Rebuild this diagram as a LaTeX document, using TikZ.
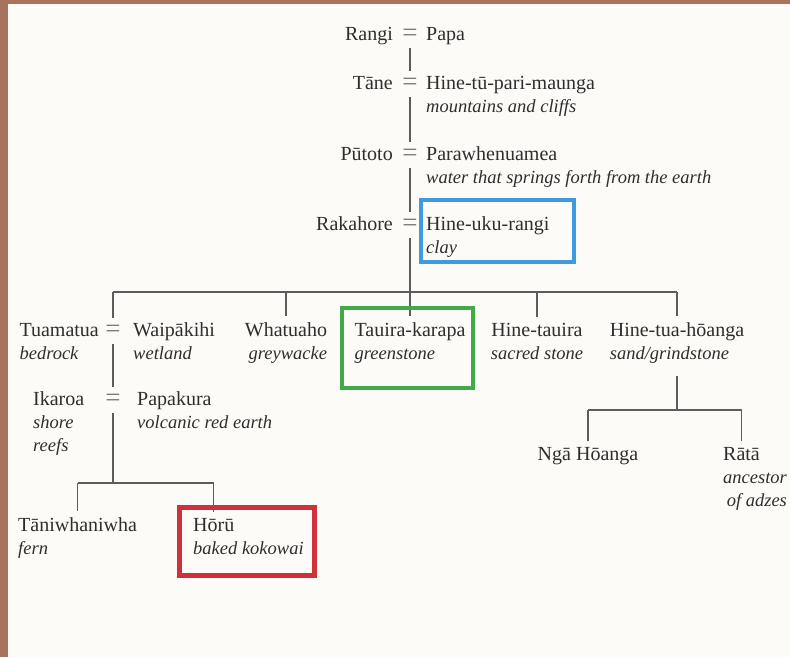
\documentclass[tikz,border=0pt]{standalone}
\usepackage{fontspec}
\setmainfont{Liberation Serif}
\usepackage{tikz}
\usetikzlibrary{positioning}
\definecolor{ink}{HTML}{2E2E2E}
\definecolor{lineg}{HTML}{5C5C5C}
\definecolor{eqg}{HTML}{7A7A7A}
\definecolor{paper}{HTML}{FCFBF7}
\definecolor{bark}{HTML}{A8735C}
\definecolor{boxblue}{HTML}{3E9BE2}
\definecolor{boxgreen}{HTML}{43A847}
\definecolor{boxred}{HTML}{D0303A}

\begin{document}
\begin{tikzpicture}[x=1pt,y=-1pt,
  nm/.style={font=\fontsize{20}{24}\selectfont,text=ink,inner xsep=0pt,inner ysep=6pt},
  ds/.style={font=\fontsize{18.5}{24}\selectfont\itshape,text=ink,inner sep=0pt,yshift=-23pt},
  eq/.style={font=\fontsize{27}{30}\selectfont,text=eqg,inner sep=0pt,minimum height=26pt,anchor=base},
  link/.style={draw=lineg,line width=1.2pt}]
\fill[bark] (0,0) rectangle (790,657);
\fill[paper] (8,4) rectangle (790,657);

\node[nm,anchor=base east] (rangi) at (393,40) {Rangi};
\node[eq] (e1) at (410,41) {=};
\node[nm,anchor=base west] (papa) at (426,40) {Papa};
\node[nm,anchor=base east] (tane) at (393,89) {Tāne};
\node[eq] (e2) at (410,90) {=};
\node[nm,anchor=base west] (hpari) at (426,89) {Hine-tū-pari-maunga};
\node[ds,anchor=base west] (dpari) at (hpari.base west) {mountains and cliffs};
\node[nm,anchor=base east] (putoto) at (393,160) {Pūtoto};
\node[eq] (e3) at (410,161) {=};
\node[nm,anchor=base west] (parawh) at (426,160) {Parawhenuamea};
\node[ds,anchor=base west] (dparawh) at (parawh.base west) {water that springs forth from the earth};
\node[nm,anchor=base east] (rakahore) at (393,230) {Rakahore};
\node[eq] (e4) at (410,231) {=};
\node[nm,anchor=base west] (huku) at (426,230) {Hine-uku-rangi};
\node[ds,anchor=base west] (dhuku) at (huku.base west) {clay};

\node[eq] (e5) at (113,337) {=};
\node[nm,anchor=base east] (tuam) at (99,336) {Tuamatua};
\node[ds,anchor=base west] (dtuam) at (tuam.base west) {bedrock};
\node[nm,anchor=base west] (waip) at (133,336) {Waipākihi};
\node[ds,anchor=base west] (dwaip) at (waip.base west) {wetland};
\node[nm,anchor=base] (whatu) at (286,336) {Whatuaho};
\node[ds,anchor=base east] (dwhatu) at (whatu.base east) {greywacke};
\node[nm,anchor=base] (tauira) at (410,336) {Tauira-karapa};
\node[ds,anchor=base west] (dtauira) at (tauira.base west) {greenstone};
\node[nm,anchor=base] (hinet) at (537,336) {Hine-tauira};
\node[ds,anchor=base] (dhinet) at (hinet.base) {sacred stone};
\node[nm,anchor=base] (htua) at (677,336) {Hine-tua-hōanga};
\node[ds,anchor=base west] (dhtua) at (htua.base west) {sand/grindstone};

\node[nm,anchor=base west] (ikaroa) at (33,405) {Ikaroa};
\node[eq] (e6) at (113,406) {=};
\node[nm,anchor=base west] (papak) at (137,405) {Papakura};
\node[ds,anchor=base west] (dikaroa) at (ikaroa.base west) {shore};
\node[ds,anchor=base west] (dikaroa2) at (dikaroa.base west) {reefs};
\node[ds,anchor=base west] (dpapak) at (papak.base west) {volcanic red earth};

\node[nm,anchor=base west] (tani) at (18,531) {Tāniwhaniwha};
\node[ds,anchor=base west] (dtani) at (tani.base west) {fern};
\node[nm,anchor=base west] (horu) at (193,531) {Hōrū};
\node[ds,anchor=base west] (dhoru) at (horu.base west) {baked kokowai};

\node[nm,anchor=base] (nga) at (588,460) {Ngā Hōanga};
\node[nm,anchor=base west] (rata) at (723,460) {Rātā};
\node[ds,anchor=base west] (drata) at (rata.base west) {ancestor};
\node[ds,anchor=base east] (drata2) at (drata.base east) {of adzes};

\coordinate (bar) at (410,292);
\coordinate (kbar) at (113,483);
\coordinate (hbar) at (677,410);
\draw[link] (e1) -- (e2);
\draw[link] (e2) -- (e3);
\draw[link] (e3) -- (e4);
\draw[link] (e4) -- (tauira);
\draw[link] (e5|-bar) -- (htua|-bar);
\foreach \k in {e5,whatu,hinet,htua}
  \draw[link] (\k|-bar) -- (\k);
\draw[link] (e5) -- (e6);
\draw[link] (e6) -- (kbar);
\draw[link] (tani|-kbar) -- (horu|-kbar);
\foreach \k in {tani,horu}
  \draw[link] (\k|-kbar) -- (\k);
\draw[link,shorten <=13pt] (dhtua.south-|htua) -- (hbar);
\draw[link] (nga|-hbar) -- (rata|-hbar);
\foreach \k in {nga,rata}
  \draw[link] (\k|-hbar) -- (\k);

\draw[boxblue,line width=4.5pt] (421,200) rectangle (574,262);
\draw[boxgreen,line width=4.5pt] (342,308) rectangle (473,388);
\draw[boxred,line width=5pt] (179,507) rectangle (314,575);
\end{tikzpicture}
\end{document}
